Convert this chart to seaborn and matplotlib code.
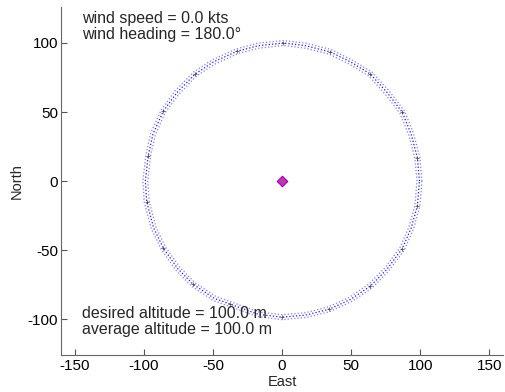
import numpy as np
import pandas as pd
import matplotlib
matplotlib.use("Agg")
import matplotlib.pyplot as plt
import seaborn as sns

# Waypoints
wp_x = [98, 87, 64, 35, 1, -32.6, -63, -86, -97, -98, -86, -64.5, -37.7, 0, 34, 64, 87, 98]
wp_y = [17, 50, 77.5, 93.5, 100, 94, 77.5, 50.7, 18, -15, -48.5, -74.6, -89, -98.5, -92.8, -76, -49, -18]

# Flight track loops
loop1_x = [101.3, 99.8, 95.2, 88.6, 77.6, 65.2, 50.7, 35.6, 17.6, 1, -17.6, -33.2, -50.7, -64.1, -77.6, -87.5,
           -95.2, -98.7, -100.8, -99.8, -94.7, -87.5, -76.9, -65.7, -49.9, -38.4, -17.3, 0, 17.4, 34.6, 50.4,
           65.2, 77.4, 88.6, 95.2, 99.8, 101.3]
loop1_y = [0, 17.3, 34.6, 50.9, 65.2, 78.9, 87.7, 95.2, 99.8, 101.8, 99.8, 95.7, 87.7, 78.9, 65.2, 51.6,
           34.6, 18.3, 0, -15.3, -34.4, -49.4, -64.5, -75.9, -86.4, -90.6, -98.2, -100.3, -98.7, -94.5, -87.2,
           -77.4, -64.9, -49.9, -34.6, -18.3, 0]
loop2_x = [99.5, 98, 93.5, 87, 76.2, 64, 49.8, 35, 17.3, 1, -17.3, -32.6, -49.8, -63, -76.2, -86,
           -93.5, -97, -99, -98, -93, -86, -75.5, -64.5, -49, -37.7, -17, 0, 17.1, 34, 49.5,
           64, 76, 87, 93.5, 98, 99.5]
loop2_y = [0, 17, 34, 50, 64, 77.5, 86.2, 93.5, 98, 100, 98, 94, 86.2, 77.5, 64, 50.7,
           34, 18, 0, -15, -33.8, -48.5, -63.4, -74.6, -84.9, -89, -96.5, -98.5, -97, -92.8, -85.7,
           -76, -63.8, -49, -34, -18, 0]
loop3_x = [97.7, 96.2, 91.8, 85.4, 74.8, 62.8, 48.9, 34.4, 17, 1, -17, -32, -48.9, -61.9, -74.8, -84.5,
           -91.8, -95.3, -97.2, -96.2, -91.3, -84.5, -74.1, -63.3, -48.1, -37, -16.7, 0, 16.8, 33.4, 48.6,
           62.8, 74.6, 85.4, 91.8, 96.2, 97.7]
loop3_y = [0, 16.7, 33.4, 49.1, 62.8, 76.1, 84.6, 91.8, 96.2, 98.2, 96.2, 92.3, 84.6, 76.1, 62.8, 49.8,
           33.4, 17.7, 0, -14.7, -33.2, -47.6, -62.3, -73.3, -83.4, -87.4, -94.8, -96.7, -95.3, -91.1, -84.2,
           -74.6, -62.7, -48.1, -33.4, -17.7, 0]

center_x = [0]
center_y = [0]

x_ticks = [-150, -100, -50, 0, 50, 100, 150]
y_ticks = [-100, -50, 0, 50, 100]

top_text = ["wind speed = 0.0 kts", "wind heading = 180.0\u00b0"]
bottom_text = ["desired altitude = 100.0 m", "average altitude = 100.0 m"]

sns.set_style("white")
plt.rcParams['font.family'] = ['Liberation Sans', 'DejaVu Sans']
plt.rcParams['xtick.bottom'] = True
plt.rcParams['ytick.left'] = True

fig = plt.figure(figsize=(5.05, 3.92), dpi=100)
ax = fig.add_axes([0.121, 0.094, 0.875, 0.888])

loops = [(loop1_x, loop1_y, 0.5), (loop2_x, loop2_y, 0.9), (loop3_x, loop3_y, 0.5)]
for lx, ly, a in loops:
    df = pd.DataFrame({"East": lx, "North": ly})
    sns.lineplot(data=df, x="East", y="North", sort=False, estimator=None,
                 color="blue", linestyle=":", linewidth=0.9, alpha=a, ax=ax)

wdf = pd.DataFrame({"East": wp_x, "North": wp_y})
sns.scatterplot(data=wdf, x="East", y="North", marker="+", s=9, color="#444444",
                linewidth=0.5, ax=ax, zorder=3)

cdf = pd.DataFrame({"East": center_x, "North": center_y})
sns.scatterplot(data=cdf, x="East", y="North", marker="D", s=30, color="magenta",
                edgecolor="#7a007a", linewidth=0.6, ax=ax, zorder=4)
sns.scatterplot(data=cdf, x="East", y="North", marker="+", s=12, color="#00c000",
                linewidth=0.8, ax=ax, zorder=5)

ax.set_xlim(-160, 160)
ax.set_ylim(-126, 126)
ax.set_xticks(x_ticks)
ax.set_yticks(y_ticks)
ax.set_xticklabels([str(t) for t in x_ticks])
ax.set_yticklabels([str(t) for t in y_ticks])
ax.tick_params(bottom=True, left=True, direction="in", length=4, width=0.8, color="#555555",
               labelsize=11, labelcolor="black", pad=3)
ax.tick_params(axis="y", pad=2)
for s in ["top", "right"]:
    ax.spines[s].set_visible(False)
for s in ["left", "bottom"]:
    ax.spines[s].set_color("#666666")
    ax.spines[s].set_linewidth(0.8)

ax.set_xlabel("East", fontsize=10.5, labelpad=1)
ax.set_ylabel("North", fontsize=10.5, labelpad=3)

ax.text(-145, 123.5, top_text[0] + "\n" + top_text[1], fontsize=11.5, va="top", ha="left",
        linespacing=1.12)
ax.text(-145, -101.5, bottom_text[0] + "\n" + bottom_text[1], fontsize=11.5, va="center", ha="left",
        linespacing=1.12)

fig.savefig("out.png", dpi=100)
